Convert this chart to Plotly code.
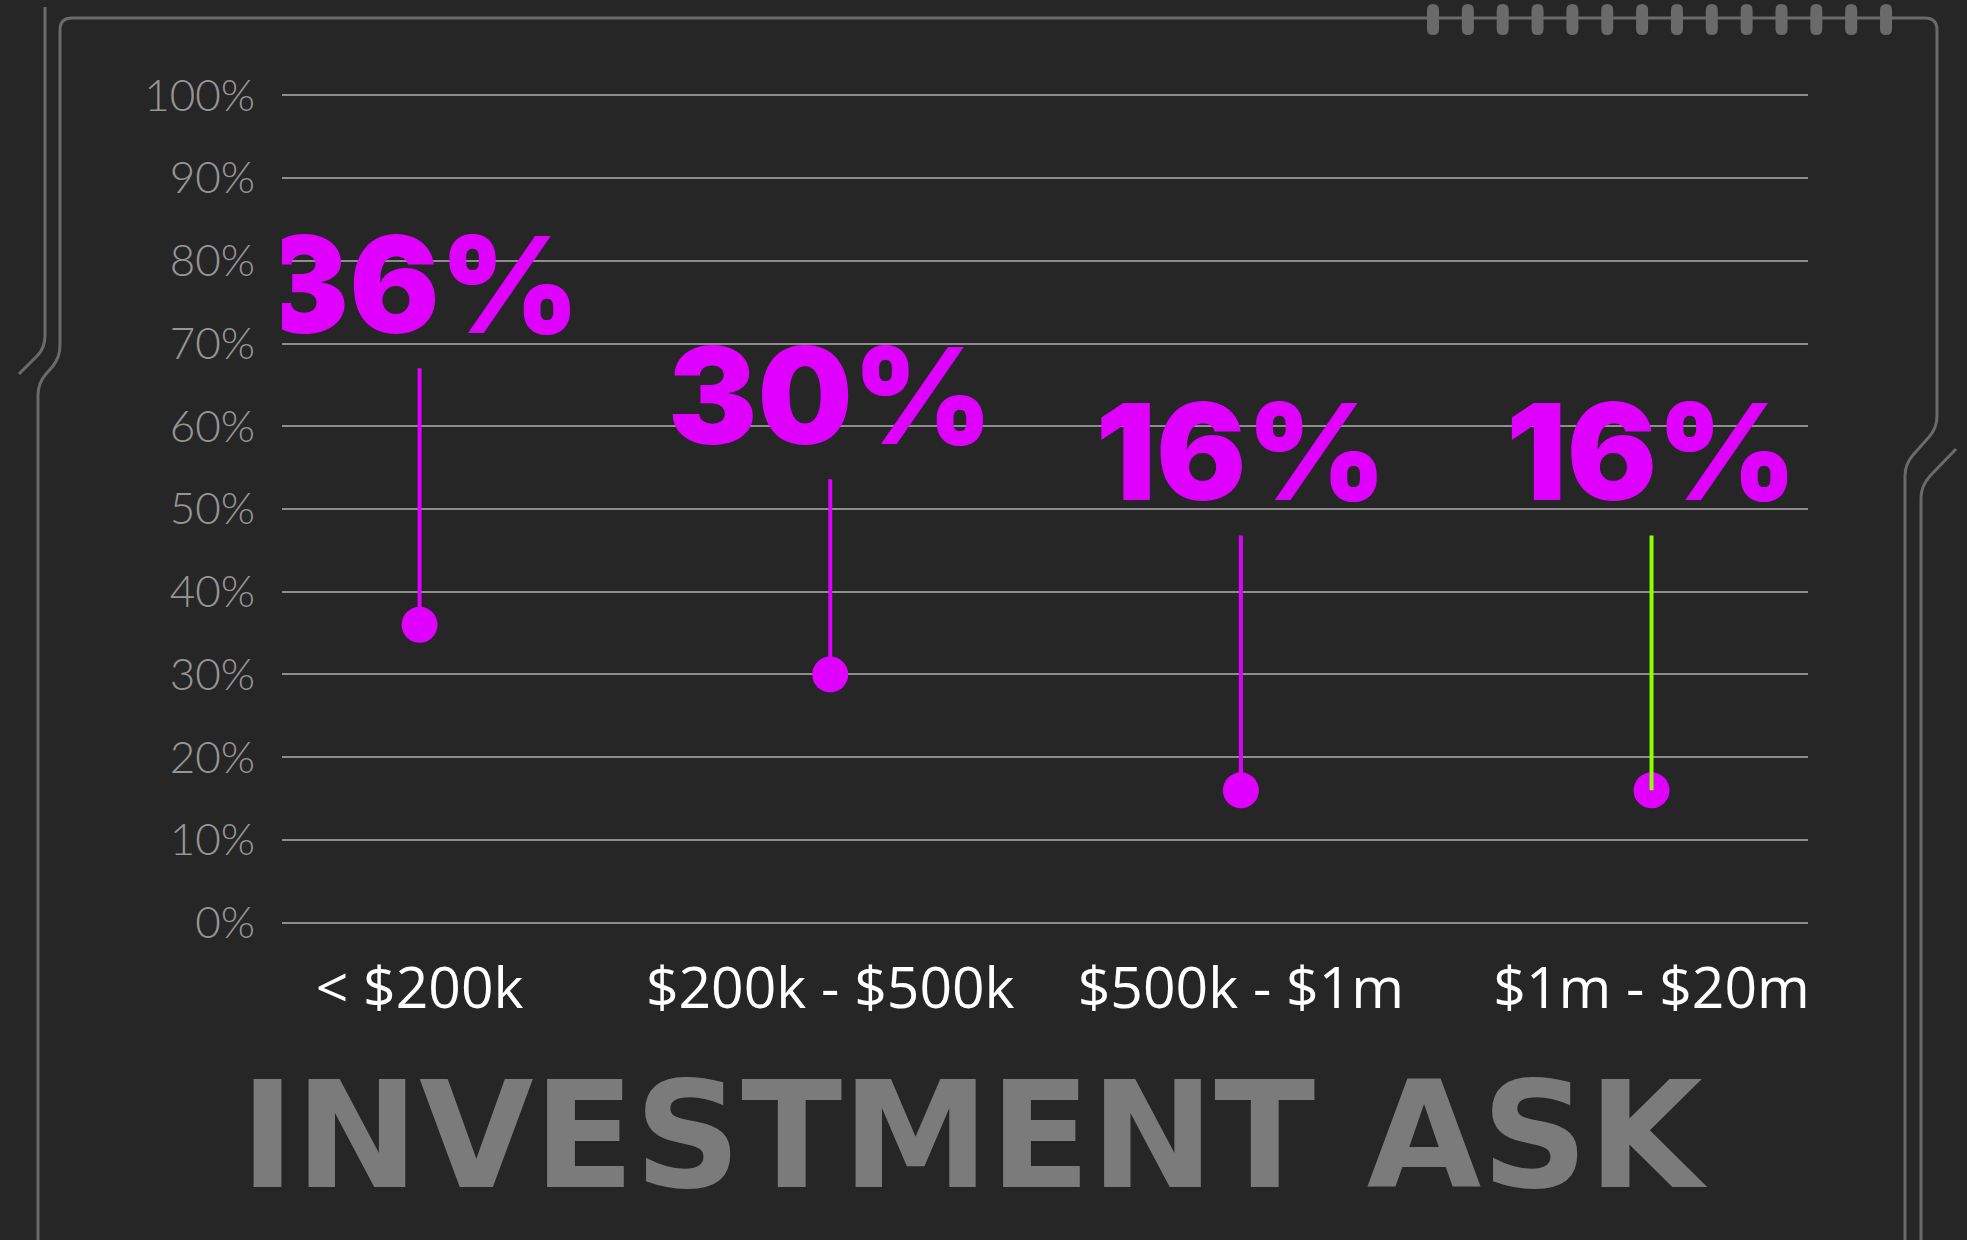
import plotly.graph_objects as go

# data
categories = ["< $200k", "$200k - $500k", "$500k - $1m", "$1m - $20m"]
shares = [36, 30, 16, 16]                 # percent of pitches
callout_tops = [67, 53.6, 46.8, 46.8]      # where each stem ends (y, in %)
stem_colors = ["#df00ff", "#df00ff", "#df00ff", "#8cff00"]
y_ticks = list(range(0, 101, 10))

MAGENTA = "#df00ff"
BG = "#262626"
FRAME = "#6a6a6a"
GRID = "#8d8d8d"

W, H = 1967, 1240
L, R, T, B = 282, 159, 92, 314
PW, PH = W - L - R, H - T - B
Y0, Y1 = -0.4, 100.4


def px(x, y):
    # pixel position -> paper coordinates
    return (x - L) / PW, (H - B - y) / PH


def path(cmds):
    out = []
    for c in cmds:
        if isinstance(c, str):
            out.append(c)
        else:
            a, b = px(*c)
            out.append(f"{a:.5f},{b:.5f}")
    return " ".join(out)


fig = go.Figure()

# dots
fig.add_trace(go.Scatter(
    x=categories, y=shares, mode="markers",
    marker=dict(size=36, color=MAGENTA),
    showlegend=False, hoverinfo="skip",
))

# stems
for cat, v, top, col in zip(categories, shares, callout_tops, stem_colors):
    fig.add_trace(go.Scatter(
        x=[cat, cat], y=[v, top], mode="lines",
        line=dict(color=col, width=4),
        showlegend=False, hoverinfo="skip",
    ))

# big percentage labels above the stems
fig.add_trace(go.Scatter(
    x=categories, y=[t + 8.3 for t in callout_tops], mode="text",
    text=[f"{v}%" for v in shares],
    textposition="middle center",
    textfont=dict(family="Inter", size=134, color=MAGENTA, weight=900),
    showlegend=False, hoverinfo="skip",
))

# decorative frame
shapes = []
line = dict(color=FRAME, width=3)
shapes.append(dict(type="path", xref="paper", yref="paper", line=line,
                   path=path(["M", (45, 7), "L", (45, 336), "Q", (45, 348), (37, 356),
                              "L", (19, 374)])))
shapes.append(dict(type="path", xref="paper", yref="paper", line=line,
                   path=path(["M", (38, 1245), "L", (38, 395), "Q", (38, 383), (46, 374),
                              "L", (53, 366), "Q", (60, 357), (60, 345),
                              "L", (60, 30), "Q", (60, 18), (72, 18),
                              "L", (1925, 18), "Q", (1937, 18), (1937, 30),
                              "L", (1937, 416), "Q", (1937, 428), (1929, 437),
                              "L", (1913, 455), "Q", (1905, 464), (1905, 476),
                              "L", (1905, 1245)])))
shapes.append(dict(type="path", xref="paper", yref="paper", line=line,
                   path=path(["M", (1956, 449), "L", (1930, 476), "Q", (1921, 486), (1921, 498),
                              "L", (1921, 1245)])))
for i in range(14):
    cx = 1433 + i * 34.85
    x0, x1, y0, y1, r = cx - 6, cx + 6, 4, 35, 6
    shapes.append(dict(type="path", xref="paper", yref="paper",
                       fillcolor=FRAME, line=dict(width=0),
                       path=path(["M", (x0, y0 + r), "Q", (x0, y0), (cx, y0), "Q", (x1, y0), (x1, y0 + r),
                                  "L", (x1, y1 - r), "Q", (x1, y1), (cx, y1), "Q", (x0, y1), (x0, y1 - r),
                                  "Z"])))

tx, ty = px(974, 1136)
fig.update_layout(
    width=W, height=H,
    margin=dict(l=L, r=R, t=T, b=B),
    plot_bgcolor=BG, paper_bgcolor=BG,
    shapes=shapes,
    annotations=[dict(
        text="INVESTMENT ASK", xref="paper", yref="paper", x=tx, y=ty,
        xanchor="center", yanchor="middle", showarrow=False,
        font=dict(family="DejaVu Sans", size=148, color="#7b7b7b", weight="bold"),
    )],
)
fig.update_xaxes(
    type="category", range=[-0.335, 3.381],
    showgrid=False, zeroline=False, showline=False,
    tickfont=dict(family="Open Sans", size=57, color="white"),
    ticklabelstandoff=24,
)
fig.update_yaxes(
    range=[Y0, Y1], tickvals=y_ticks, ticktext=[f"{v}%" for v in y_ticks],
    showgrid=True, gridcolor=GRID, gridwidth=2, zeroline=False, showline=False,
    tickfont=dict(family="Lato", size=44, color="#969696", weight=300),
    ticklabelstandoff=26,
)

fig.write_html(
    "out.html",
    config={"displayModeBar": False},
    post_script="document.body.style.margin='0';document.body.style.background='#262626';",
)
